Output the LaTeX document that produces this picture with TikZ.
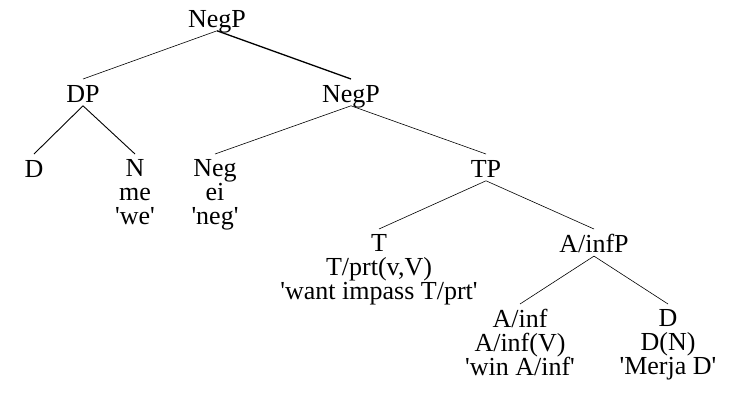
\documentclass[tikz,border=0pt]{standalone}
\usepackage{fontspec}
\setmainfont{Liberation Serif}
\usepackage{tikz}
\newcommand{\q}[1]{\textquotesingle#1\textquotesingle}
\newcommand{\branch}[3][]{
\draw[#1] ([yshift=-3.5pt]#2.base) -- ([yshift=5pt]#3.north);}

\begin{document}
\begin{tikzpicture}[x=1pt,y=-1pt,line width=0.6pt,
  every node/.style={font=\fontsize{26}{24}\selectfont,align=center,
    anchor=north,inner sep=0pt,execute at begin node={\rule{0pt}{18pt}}}]
\useasboundingbox (0,0) rectangle (755,420);
% node tops are 18pt above the first baseline
\node (NegP) at (217,9) {NegP};
\node (DP) at (83,84) {DP};
\node (NegPb) at (351,84) {NegP};
\node (D) at (34,159) {D};
\node (N) at (135,159) {N\\me\\\q{we}};
\node (Neg) at (215,159) {Neg\\ei\\\q{neg}};
\node (TP) at (486,159) {TP};
\node (T) at (379,234) {T\\T/prt(v,V)\\\q{want impass T/prt}};
\node (AinfP) at (594,234) {A/infP};
\node (Ainf) at (520,309) {A/inf\\A/inf(V)\\\q{win A/inf}};
\node (Db) at (668,309) {D\\D(N)\\\q{Merja D}};
% branches
\branch{NegP}{DP}
\branch[line width=1.3pt]{NegP}{NegPb}
\branch[line width=0.9pt]{DP}{D}
\branch[line width=0.9pt]{DP}{N}
\branch{NegPb}{Neg}
\branch{NegPb}{TP}
\branch{TP}{T}
\branch{TP}{AinfP}
\branch{AinfP}{Ainf}
\branch{AinfP}{Db}
\end{tikzpicture}
\end{document}
